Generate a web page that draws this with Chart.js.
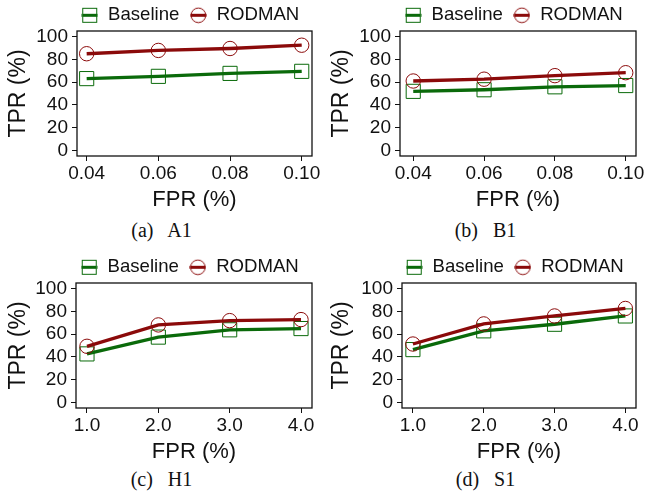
<!DOCTYPE html>
<html><head><meta charset="utf-8">
<script src="https://cdn.jsdelivr.net/npm/chart.js@4/dist/chart.umd.min.js"></script>
<style>
html,body{margin:0;padding:0;background:#fff;width:647px;height:495px;overflow:hidden}
.panel{position:absolute;height:215px}
.cap{position:absolute;width:323px;text-align:center;font-family:'Liberation Serif','Times New Roman',serif;font-size:20px;line-height:24px;color:#111;word-spacing:10px;white-space:nowrap}
</style></head><body>
<div class="panel" style="left:0;top:0;width:323px"><canvas id="cA"></canvas></div>
<div class="panel" style="left:323px;top:0;width:324px"><canvas id="cB"></canvas></div>
<div class="panel" style="left:0;top:252px;width:323px"><canvas id="cH"></canvas></div>
<div class="panel" style="left:323px;top:252px;width:324px"><canvas id="cS"></canvas></div>
<div class="cap" style="left:0;top:218px">(a) A1</div>
<div class="cap" style="left:324px;top:218px">(b) B1</div>
<div class="cap" style="left:0;top:467px">(c) H1</div>
<div class="cap" style="left:324px;top:467px">(d) S1</div>
<script>
// ---- data ----
const seriesNames = ['Baseline', 'RODMAN'];
const fprSmall = [0.04, 0.06, 0.08, 0.10];
const fprLarge = [1.0, 2.0, 3.0, 4.0];
const fprSmallLabels = ['0.04', '0.06', '0.08', '0.10'];
const fprLargeLabels = ['1.0', '2.0', '3.0', '4.0'];
const tprTicks = [0, 20, 40, 60, 80, 100];
const a1Baseline = [63.1, 65.1, 67.7, 69.5];
const a1Rodman = [85.0, 87.9, 89.6, 92.5];
const b1Baseline = [51.9, 53.3, 55.9, 57.0];
const b1Rodman = [61.0, 62.6, 65.7, 68.3];
const h1Baseline = [42.6, 57.4, 63.8, 64.9];
const h1Rodman = [49.3, 68.1, 71.9, 72.8];
const s1Baseline = [46.4, 62.9, 68.7, 76.0];
const s1Rodman = [51.3, 69.0, 76.0, 82.6];

// ---- styles ----
const GREEN = '#0a6a0a';
const RED = '#8b0a0a';
const FONT = "'Liberation Sans', Arial, Helvetica, sans-serif";

function legendIcon(color, shape) {
  const c = document.createElement('canvas');
  c.width = 17; c.height = 17;
  const g = c.getContext('2d');
  g.strokeStyle = color;
  g.lineWidth = 1;
  if (shape === 'rect') { g.strokeRect(1.5, 1.5, 14, 14); }
  else { g.beginPath(); g.arc(8.5, 8.5, 7.3, 0, Math.PI * 2); g.stroke(); }
  g.lineWidth = 3;
  g.beginPath(); g.moveTo(0.5, 8.5); g.lineTo(16.5, 8.5); g.stroke();
  return c;
}
const icons = [legendIcon(GREEN, 'rect'), legendIcon(RED, 'circle')];

const boxPlugin = {
  id: 'box',
  afterLayout(chart) {
    const lg = chart.legend, ca = chart.chartArea;
    lg.top -= 4; lg.bottom -= 4;
    const shift = ((ca.left + ca.right) / 2 - 4.5) - (lg.left + lg.right) / 2;
    lg.left += shift; lg.right += shift;
  },
  afterDraw(chart) {
    const a = chart.chartArea, ctx = chart.ctx;
    ctx.save();
    ctx.strokeStyle = '#111'; ctx.lineWidth = 1.3;
    ctx.strokeRect(a.left, a.top, a.right - a.left, a.bottom - a.top);
    ctx.restore();
  }
};

function makeChart(id, xs, xLabels, base, rod, xmin, xmax, yAxisW, padRight) {
  const ds = (name, vals, color, style, r) => ({
    label: name,
    data: xs.map((x, i) => ({x: x, y: vals[i]})),
    borderColor: color, backgroundColor: 'rgba(0,0,0,0)',
    borderWidth: 3.3,
    pointStyle: style, pointRadius: r, pointHoverRadius: r,
    pointBorderColor: color, pointBackgroundColor: 'rgba(0,0,0,0)', pointBorderWidth: 1,
    tension: 0, fill: false
  });
  const chart = new Chart(document.getElementById(id), {
    type: 'line',
    data: { datasets: [
      ds(seriesNames[1], rod, RED, 'circle', 7.2),
      ds(seriesNames[0], base, GREEN, 'rect', 10)
    ]},
    options: {
      responsive: true, maintainAspectRatio: false, animation: false,
      devicePixelRatio: 1,
      layout: { padding: { left: 0, right: padRight, top: 0, bottom: 0 } },
      plugins: {
        tooltip: { enabled: false },
        legend: {
          display: true, position: 'top', fullSize: true,
          labels: {
            usePointStyle: true, pointStyleWidth: 18, padding: 10,
            color: '#111', font: { family: FONT, size: 18.6 },
            generateLabels: () => seriesNames.map((n, i) => ({
              text: n, pointStyle: icons[i], fillStyle: 'rgba(0,0,0,0)', strokeStyle: 'rgba(0,0,0,0)',
              lineWidth: 0, hidden: false, datasetIndex: 1 - i, fontColor: '#111'
            }))
          }
        }
      },
      scales: {
        x: {
          type: 'linear', min: xmin, max: xmax,
          afterBuildTicks: s => { s.ticks = xs.map(v => ({value: v})); },
          afterFit: s => { s.height = 59; },
          ticks: { callback: (v, i) => xLabels[i], color: '#111', font: { family: FONT, size: 19 }, padding: 1, maxRotation: 0, autoSkip: false },
          grid: { display: true, drawOnChartArea: false, drawTicks: true, tickLength: 5, color: '#111', tickColor: '#111' },
          border: { display: false },
          title: { display: true, text: 'FPR (%)', color: '#111', font: { family: FONT, size: 22 }, padding: { top: 2, bottom: 2 } }
        },
        y: {
          type: 'linear', min: -5, max: 105,
          afterBuildTicks: s => { s.ticks = tprTicks.map(v => ({value: v})); },
          afterFit: s => { s.width = yAxisW; },
          ticks: { callback: v => String(v), color: '#111', font: { family: FONT, size: 19 }, padding: 4, autoSkip: false },
          grid: { display: true, drawOnChartArea: false, drawTicks: true, tickLength: 5, color: '#111', tickColor: '#111' },
          border: { display: false },
          title: { display: true, text: 'TPR (%)', color: '#111', font: { family: FONT, size: 23 }, padding: { top: 5, bottom: 3 } }
        }
      }
    },
    plugins: [boxPlugin]
  });
  const lg = chart.legend; const f = lg.fit;
  lg.fit = function () { f.call(this); this.height = 31; };
  chart.update();
  return chart;
}

makeChart('cA', fprSmall, fprSmallLabels, a1Baseline, a1Rodman, 0.0373, 0.10287, 77, 11);
makeChart('cB', fprSmall, fprSmallLabels, b1Baseline, b1Rodman, 0.03626, 0.1029, 77, 10);
makeChart('cH', fprLarge, fprLargeLabels, h1Baseline, h1Rodman, 0.846, 4.154, 76, 11);
makeChart('cS', fprLarge, fprLargeLabels, s1Baseline, s1Rodman, 0.846, 4.15, 79, 9);
</script>
</body></html>
